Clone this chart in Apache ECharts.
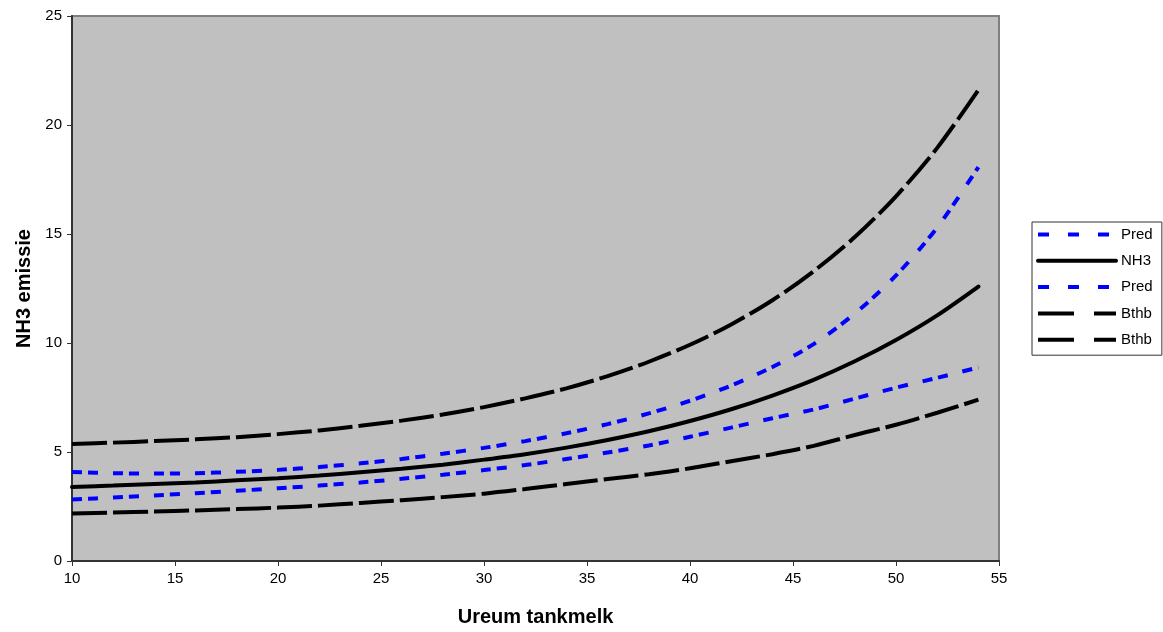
<!DOCTYPE html>
<html>
<head>
<meta charset="utf-8">
<script src="https://cdn.jsdelivr.net/npm/echarts@6/dist/echarts.min.js"></script>
<style>
html,body{margin:0;padding:0;background:#fff;}
#chart{width:1163px;height:632px;}
</style>
</head>
<body>
<div id="chart"></div>
<script>
// Ureum tankmelk values (x)
const xValues = [10,12,14,16,18,20,22,24,26,28,30,32,34,36,38,40,42,44,46,48,50,52,54];
// Upper prediction band (blue)
const predUpper = [4.08,4.03,4.01,4.03,4.09,4.18,4.31,4.48,4.68,4.92,5.19,5.5,5.86,6.28,6.77,7.35,8.05,8.9,9.95,11.35,13.1,15.3,18.07];
// NH3 emission (solid)
const nh3 = [3.4,3.46,3.53,3.6,3.7,3.8,3.92,4.07,4.23,4.42,4.65,4.9,5.2,5.55,5.95,6.42,6.96,7.59,8.31,9.16,10.14,11.27,12.59];
// Lower prediction band (blue)
const predLower = [2.82,2.91,3.01,3.11,3.22,3.34,3.46,3.6,3.77,3.96,4.17,4.4,4.68,4.98,5.3,5.7,6.12,6.55,6.95,7.45,7.95,8.4,8.88];
// Upper Bthb (long dash)
const bthbUpper = [5.37,5.43,5.5,5.58,5.68,5.82,5.99,6.2,6.44,6.72,7.06,7.46,7.92,8.48,9.14,9.92,10.85,11.96,13.29,14.86,16.73,18.95,21.61];
// Lower Bthb (long dash)
const bthbLower = [2.18,2.22,2.27,2.32,2.38,2.45,2.54,2.66,2.79,2.93,3.09,3.3,3.53,3.76,3.98,4.25,4.58,4.9,5.28,5.78,6.25,6.8,7.4];

const xTicks = {min:10, max:55, interval:5};
const yTicks = {min:0, max:25, interval:5};

function pairs(ys){ return xValues.map((x,i)=>[x, ys[i]]); }

const font = '"Liberation Sans", Arial, sans-serif';
const chart = echarts.init(document.getElementById('chart'), null, {renderer:'canvas'});

const blueDash = [10,6,10,15];
const longDash = [35,6];

chart.setOption({
  animation:false,
  backgroundColor:'#ffffff',
  textStyle:{fontFamily:font, color:'#000'},
  grid:{left:72, right:164, top:16, bottom:71, show:true, backgroundColor:'#c0c0c0', borderColor:'#808080', borderWidth:2},
  legend:{
    orient:'vertical', left:1032, top:222,
    itemWidth:78, itemHeight:14, itemGap:11.3,
    padding:[5,5,8,4],
    borderColor:'#333', borderWidth:1, backgroundColor:'#fff',
    textStyle:{fontFamily:font, fontSize:15, color:'#000'},
    itemStyle:{opacity:0},
    lineStyle:{width:4, opacity:1},
    data:[
      {name:'Pred', lineStyle:{type:[11,19], width:4, opacity:1}},
      {name:'NH3', lineStyle:{width:4, opacity:1}},
      {name:'Pred ', lineStyle:{type:[11,19], width:4, opacity:1}},
      {name:'Bthb', lineStyle:{type:[36,20], width:4, opacity:1}},
      {name:'Bthb ', lineStyle:{type:[36,20], width:4, opacity:1}}
    ],
    selectedMode:false
  },
  xAxis:{
    type:'value', min:xTicks.min, max:xTicks.max, interval:xTicks.interval,
    name:'Ureum tankmelk', nameLocation:'middle', nameGap:46,
    nameTextStyle:{fontFamily:font, fontSize:20, fontWeight:'bold', color:'#000'},
    axisLine:{show:true, onZero:false, lineStyle:{color:'#333', width:2}},
    axisTick:{show:true, length:5, lineStyle:{color:'#333', width:1}},
    axisLabel:{fontFamily:font, fontSize:15, color:'#000', margin:10},
    splitLine:{show:false}
  },
  yAxis:{
    type:'value', min:yTicks.min, max:yTicks.max, interval:yTicks.interval,
    name:'NH3 emissie', nameLocation:'middle', nameGap:38,
    nameTextStyle:{fontFamily:font, fontSize:20, fontWeight:'bold', color:'#000'},
    axisLine:{show:true, lineStyle:{color:'#333', width:2}},
    axisTick:{show:true, length:5, lineStyle:{color:'#333', width:1}},
    axisLabel:{fontFamily:font, fontSize:15, color:'#000', margin:10},
    splitLine:{show:false}
  },
  series:[
    {name:'Pred', type:'line', data:pairs(predUpper), smooth:0.3, symbol:'none', showSymbol:false,
     lineStyle:{color:'#0000ff', width:4, type:blueDash, cap:'butt'}, itemStyle:{color:'#0000ff'}},
    {name:'NH3', type:'line', data:pairs(nh3), smooth:0.3, symbol:'none', showSymbol:false,
     lineStyle:{color:'#000', width:4, cap:'round'}, itemStyle:{color:'#000'}},
    {name:'Pred ', type:'line', data:pairs(predLower), smooth:0.3, symbol:'none', showSymbol:false,
     lineStyle:{color:'#0000ff', width:4, type:blueDash, cap:'butt'}, itemStyle:{color:'#0000ff'}},
    {name:'Bthb', type:'line', data:pairs(bthbUpper), smooth:0.3, symbol:'none', showSymbol:false,
     lineStyle:{color:'#000', width:4, type:longDash, cap:'butt'}, itemStyle:{color:'#000'}},
    {name:'Bthb ', type:'line', data:pairs(bthbLower), smooth:0.3, symbol:'none', showSymbol:false,
     lineStyle:{color:'#000', width:4, type:longDash, cap:'butt'}, itemStyle:{color:'#000'}}
  ]
});
</script>
</body>
</html>
